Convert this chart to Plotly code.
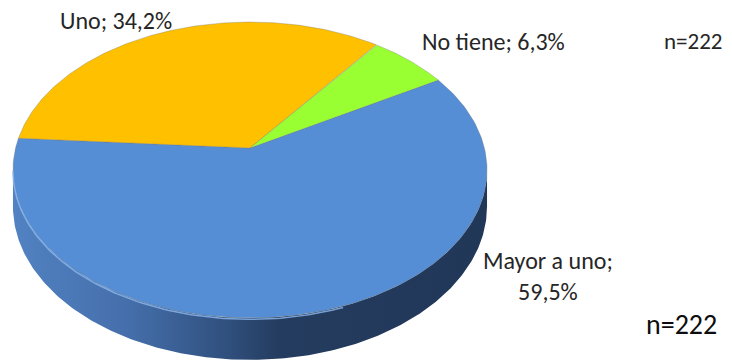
import numpy as np
import plotly.graph_objects as go

# Households by number of items owned (n = 222)
categories = ["Mayor a uno", "Uno", "No tiene"]
shares = [59.5, 34.2, 6.3]
sample_note = "n=222"

# Styling
TOP_COLORS = ["#558ED5", "#FFC000", "#99FF33"]
LABEL_BREAK = ["<br>", " ", " "]
LABEL_POS = [(548, 276), (116, 20), (493, 41)]
FONT = "Calibri, Carlito, Lato, sans-serif"
TEXT_COLOR = "#262626"

# Pie geometry (page pixels) with a simple perspective tilt
W, H = 732, 363
CX, CY = 250.0, 148.0      # projected pie centre
A, B = 234.4, 144.7        # horizontal / vertical radius scale
K = 0.1486                 # perspective strength (far side smaller)
T = 35.7                   # thickness of the disc
START_DEG = 30.3           # first slice starts here, running clockwise


def project(theta_deg, drop=0.0):
    t = np.radians(theta_deg)
    u, v = np.cos(t), np.sin(t)
    w = 1 + K * v
    return CX + A * u / w, CY - B * v / w + drop / w


fig = go.Figure()

# Slice boundaries from the shares
total = sum(shares)
bounds = [START_DEG]
for s in shares:
    bounds.append(bounds[-1] - s / total * 360.0)

# Visible front wall of the disc with a left-to-right shading
edge = np.degrees(np.arcsin(K))
arc = np.linspace(180 + edge, 360 - edge, 240)
xt, yt = project(arc)
xb, yb = project(arc[::-1], T)
side_scale = [
    [0.00, "rgb(82,130,194)"],
    [0.25, "rgb(68,110,170)"],
    [0.45, "rgb(48,80,126)"],
    [0.56, "rgb(36,60,95)"],
    [1.00, "rgb(33,55,88)"],
]
fig.add_trace(go.Scatter(
    x=np.concatenate([xt, xb, xt[:1]]), y=np.concatenate([yt, yb, yt[:1]]),
    mode="lines", fill="toself",
    fillgradient=dict(type="horizontal", colorscale=side_scale),
    line=dict(width=0), hoverinfo="skip", showlegend=False,
))

# Top face slices
for i, (cat, s) in enumerate(zip(categories, shares)):
    arc = np.linspace(bounds[i], bounds[i + 1], 200)
    xa, ya = project(arc)
    xs = np.concatenate([[CX], xa, [CX]])
    ys = np.concatenate([[CY], ya, [CY]])
    fig.add_trace(go.Scatter(
        x=xs, y=ys, mode="lines", fill="toself", fillcolor=TOP_COLORS[i],
        line=dict(color="rgba(110,110,110,0.4)", width=0.8),
        name=cat, hoverinfo="name", showlegend=False,
    ))

# Soft highlight along the front rim
rim = np.linspace(180 + edge, 290, 120)
xr, yr = project(rim, 1.2)
fig.add_trace(go.Scatter(
    x=xr, y=yr, mode="lines", line=dict(color="rgba(140,185,240,0.8)", width=1.5),
    hoverinfo="skip", showlegend=False,
))

# Data labels
for i, (cat, s) in enumerate(zip(categories, shares)):
    text = f"{cat};{LABEL_BREAK[i]}{s:.1f}%".replace(".", ",")
    x, y = LABEL_POS[i]
    fig.add_annotation(
        x=x, y=y, xref="x", yref="y", text=text, showarrow=False,
        xanchor="center", yanchor="middle", align="center",
        font=dict(family=FONT, size=24, color=TEXT_COLOR),
    )

fig.add_annotation(x=693, y=41, xref="x", yref="y", text=sample_note, showarrow=False,
                   xanchor="center", yanchor="middle",
                   font=dict(family=FONT, size=23, color=TEXT_COLOR))
fig.add_annotation(x=681, y=324, xref="x", yref="y", text=sample_note, showarrow=False,
                   xanchor="center", yanchor="middle",
                   font=dict(family=FONT, size=28, color="#0d0d0d"))

fig.update_layout(
    width=W, height=H, margin=dict(l=0, r=0, t=0, b=0),
    paper_bgcolor="white", plot_bgcolor="white",
    xaxis=dict(range=[0, W], visible=False, fixedrange=True, domain=[0, 1]),
    yaxis=dict(range=[H, 0], visible=False, fixedrange=True, domain=[0, 1]),
)

fig.write_html("out.html")
